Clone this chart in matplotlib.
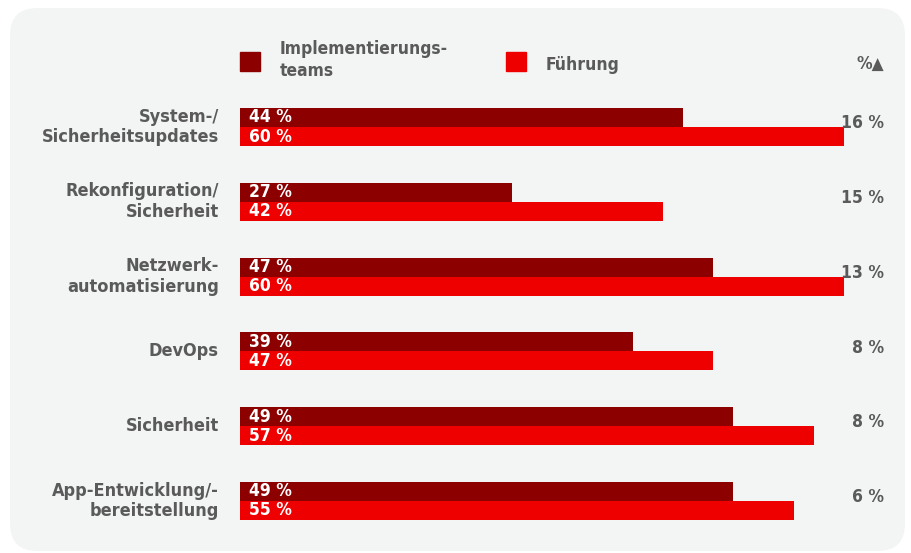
import matplotlib.pyplot as plt
from matplotlib.patches import FancyBboxPatch
from matplotlib import font_manager

categories = [
    "System-/\nSicherheitsupdates",
    "Rekonfiguration/\nSicherheit",
    "Netzwerk-\nautomatisierung",
    "DevOps",
    "Sicherheit",
    "App-Entwicklung/-\nbereitstellung",
]
impl_teams = [44, 27, 47, 39, 49, 49]
fuehrung = [60, 42, 60, 47, 57, 55]
diff_labels = ["16 %", "15 %", "13 %", "8 %", "8 %", "6 %"]
legend_labels = ["Implementierungs-\nteams", "Führung"]

DARK = "#8c0000"
BRIGHT = "#ee0000"
GREY = "#5a5a5a"
PANEL = "#f3f5f5"

names = {f.name for f in font_manager.fontManager.ttflist}
FONT = ["Liberation Sans Narrow", "DejaVu Sans"] if "Liberation Sans Narrow" in names else ["DejaVu Sans"]
plt.rcParams["font.family"] = FONT
plt.rcParams["font.stretch"] = "condensed"

W, H = 911, 553
fig = plt.figure(figsize=(W / 100, H / 100), dpi=100)
fig.patch.set_facecolor("white")


def fx(px):
    return px / W


def fy(py):
    return 1 - py / H


panel = FancyBboxPatch((fx(10), fy(551)), fx(895), 543 / H,
                       boxstyle="round,pad=0,rounding_size=0.03",
                       transform=fig.transFigure, facecolor=PANEL,
                       edgecolor="none", zorder=-5, mutation_aspect=W / H)
fig.patches.append(panel)

# axes: x=0 at 240px, 60 % at 844px; group centres 127px .. 501px
spacing = (501 - 127) / 5
top = 127 - spacing / 2
bottom = 501 + spacing / 2
ax = fig.add_axes([fx(240), fy(bottom), fx(604), (bottom - top) / H])
ax.set_xlim(0, 60)
ax.set_ylim(5.5, -0.5)
ax.axis("off")

bh = 19 / spacing
ys = list(range(len(categories)))
ax.barh([y - bh / 2 for y in ys], impl_teams, height=bh, color=DARK, zorder=2)
ax.barh([y + bh / 2 for y in ys], fuehrung, height=bh, color=BRIGHT, zorder=2)

for y, a, b in zip(ys, impl_teams, fuehrung):
    ax.text(0.9, y - bh / 2, f"{a} %", color="white", fontsize=12.5,
            fontweight="bold", va="center", ha="left", zorder=3)
    ax.text(0.9, y + bh / 2, f"{b} %", color="white", fontsize=12.5,
            fontweight="bold", va="center", ha="left", zorder=3)

for y, cat, d in zip(ys, categories, diff_labels):
    ax.annotate(cat, xy=(fx(219), y), xycoords=("figure fraction", "data"),
                ha="right", va="center", fontsize=13, fontweight="bold",
                color=GREY, linespacing=1.2, annotation_clip=False)
    ax.annotate(d, xy=(fx(884), y - 0.05), xycoords=("figure fraction", "data"),
                ha="right", va="center", fontsize=12.5, fontweight="bold",
                color=GREY, annotation_clip=False)

# legend
fig.patches.append(plt.Rectangle((fx(240), fy(71)), fx(20), 19 / H,
                                 transform=fig.transFigure, color=DARK))
fig.patches.append(plt.Rectangle((fx(506), fy(71)), fx(20), 19 / H,
                                 transform=fig.transFigure, color=BRIGHT))
fig.text(fx(280), fy(60), legend_labels[0], ha="left", va="center",
         fontsize=12.5, fontweight="bold", color=GREY, linespacing=1.25)
fig.text(fx(546), fy(65), legend_labels[1], ha="left", va="center",
         fontsize=12.5, fontweight="bold", color=GREY)
fig.text(fx(884), fy(64), "%▲", ha="right", va="center",
         fontsize=12.5, fontweight="bold", color=GREY,
         family=FONT + ["DejaVu Sans"])

fig.savefig("out.png", dpi=100, facecolor=fig.get_facecolor())
